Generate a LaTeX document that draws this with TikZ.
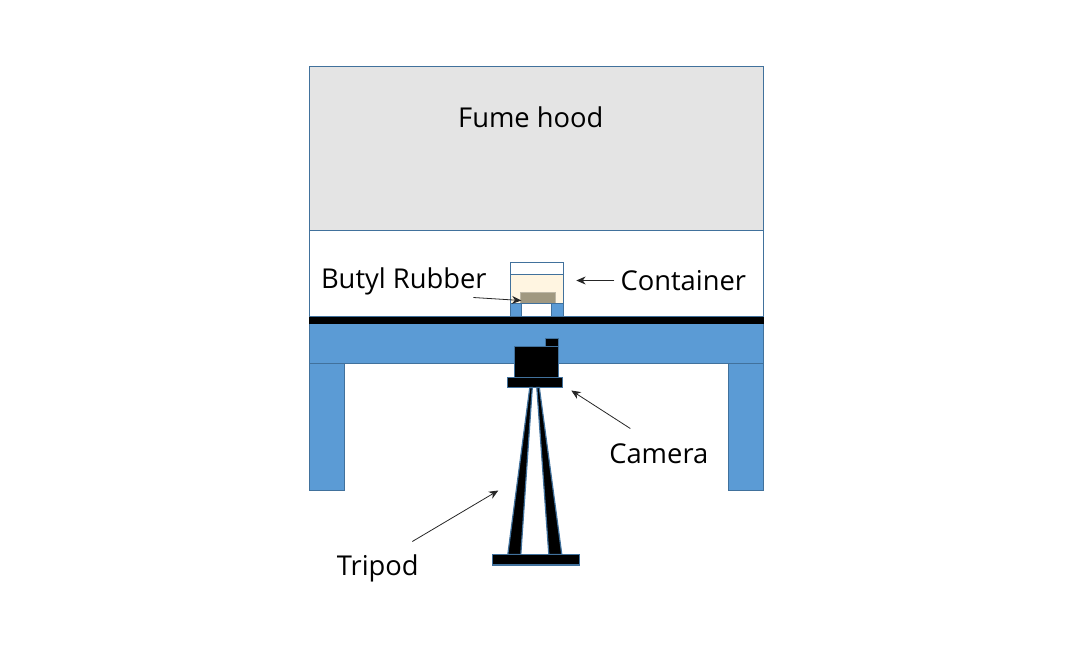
\documentclass[tikz,border=0pt]{standalone}
\usepackage{fontspec}
\setmainfont{Open Sans}
\usetikzlibrary{arrows.meta}
\definecolor{hoodgray}{HTML}{E4E4E4}
\definecolor{tableblue}{HTML}{5B9BD5}
\definecolor{edgeblue}{HTML}{41719C}
\definecolor{creamfill}{HTML}{FFF5E1}
\definecolor{rubberfill}{HTML}{A09880}
\tikzset{
  partbox/.style={draw=edgeblue, line width=0.9pt},
  blackpart/.style={draw=edgeblue, fill=black, line width=0.9pt},
  bluepart/.style={draw=edgeblue, fill=tableblue, line width=0.9pt},
  partlabel/.style={font=\fontsize{20.5}{24}\selectfont, text=black, inner sep=0pt},
  pointer/.style={-{Stealth[length=7pt,width=6pt]}, black!85, line width=0.6pt}
}
\begin{document}
\begin{tikzpicture}[x=0.75pt, y=-0.75pt]
  \useasboundingbox (0.7, 0.5) rectangle (1080.7, 648.5);

  % Fume hood
  \draw[partbox, fill=white] (310, 231) rectangle (764, 317);
  \draw[partbox, fill=hoodgray] (310, 67) rectangle (764, 231);

  % Table
  \draw[bluepart] (310, 323) rectangle (764, 364);
  \draw[bluepart] (310, 364) rectangle (345, 491);
  \draw[bluepart] (729, 364) rectangle (764, 491);
  \draw[draw=black, fill=black] (310, 317.5) rectangle (764, 323.5);

  % Container
  \draw[partbox, fill=white] (511, 263) rectangle (564, 275);
  \draw[partbox, fill=creamfill] (511, 275) rectangle (564, 304);
  \draw[draw=rubberfill!70!white, fill=rubberfill] (520.5, 293) rectangle (555.5, 304);
  \draw[bluepart] (511, 304) rectangle (522.5, 317);
  \draw[bluepart] (552.5, 304) rectangle (564, 317);
  \draw[partbox, fill=white] (522.5, 304) rectangle (552.5, 317);

  % Camera
  \draw[blackpart] (515.5, 347) rectangle (559.5, 378);
  \draw[blackpart] (546.5, 339) rectangle (559.5, 347);
  \draw[blackpart] (508, 378) rectangle (563.5, 388);

  % Tripod
  \draw[blackpart] (530.5, 388) -- (533, 388) -- (521.5, 555) -- (508.5, 555) -- cycle;
  \draw[blackpart] (537.5, 388) -- (540, 388) -- (562.5, 555) -- (549.5, 555) -- cycle;
  \draw[blackpart] (493.5, 555) rectangle (580.5, 565.5);

  % Labels
  \node[partlabel] (hood) at (531.5, 118) {Fume hood};
  \node[partlabel] (rubber) at (404.5, 282) {Butyl Rubber};
  \node[partlabel] (container) at (684, 281) {Container};
  \node[partlabel] (camera) at (659.5, 454) {Camera};
  \node[partlabel] (tripod) at (378.5, 569) {Tripod};

  % Pointers
  \coordinate (rubberfrom) at (474, 298);
  \coordinate (rubberto) at (522, 301);
  \coordinate (containerfrom) at (615, 281);
  \coordinate (containerto) at (577, 281);
  \coordinate (camerafrom) at (631, 429);
  \coordinate (camerato) at (572, 391);
  \coordinate (tripodfrom) at (413, 542);
  \coordinate (tripodto) at (499, 491);
  \draw[pointer] (rubberfrom) -- (rubberto);
  \draw[pointer] (containerfrom) -- (containerto);
  \draw[pointer] (camerafrom) -- (camerato);
  \draw[pointer] (tripodfrom) -- (tripodto);
\end{tikzpicture}
\end{document}
